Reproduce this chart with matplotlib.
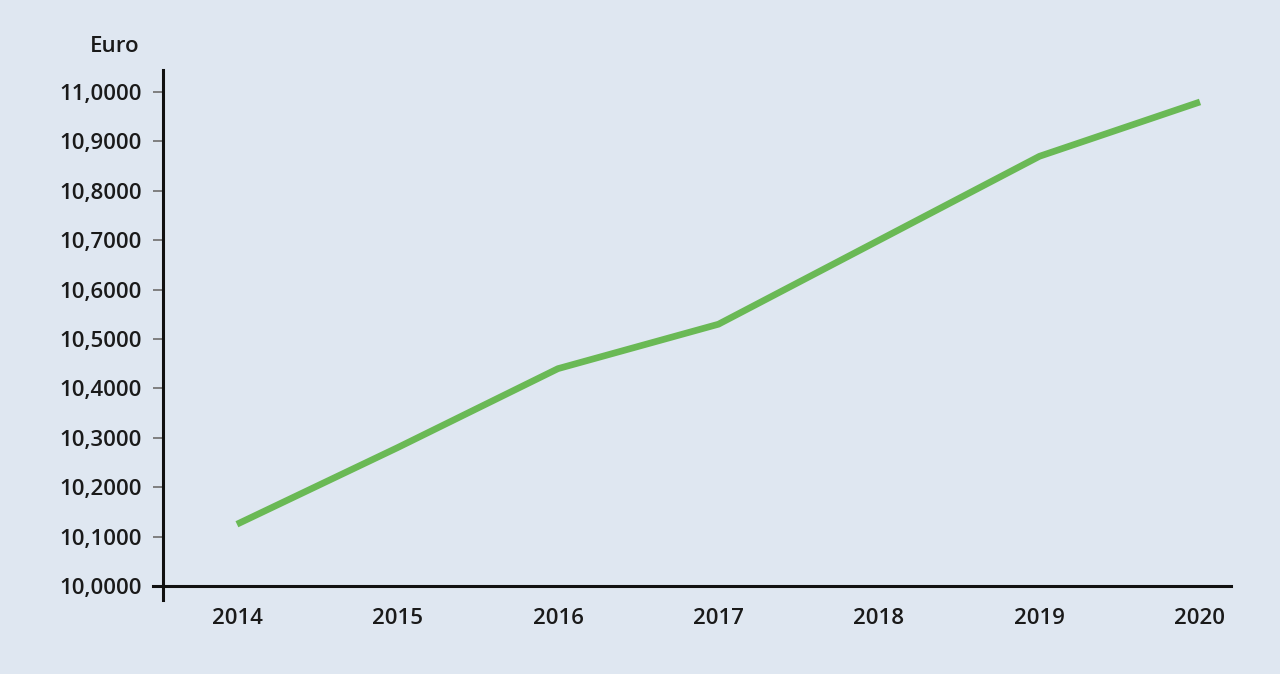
import matplotlib.pyplot as plt
from matplotlib.ticker import FuncFormatter

# Data
years = [2014, 2015, 2016, 2017, 2018, 2019, 2020]
values = [10.125, 10.28, 10.44, 10.53, 10.70, 10.87, 10.98]
y_ticks = [10.0, 10.1, 10.2, 10.3, 10.4, 10.5, 10.6, 10.7, 10.8, 10.9, 11.0]

bg = '#dfe7f1'
plt.rcParams['font.family'] = ['Open Sans', 'DejaVu Sans']

fig = plt.figure(figsize=(12.8, 6.74), dpi=100, facecolor=bg)
ax = fig.add_axes([0.1273, 0.1306, 0.8344, 0.7654])
ax.set_facecolor(bg)

ax.plot(years, values, color='#6ab955', linewidth=4.8, solid_capstyle='butt')

ax.set_xlim(2013.539, 2020.193)
ax.set_ylim(10.0, 11.0445)
ax.set_xticks(years)
ax.set_yticks(y_ticks)
ax.yaxis.set_major_formatter(FuncFormatter(lambda v, p: f"{v:.4f}".replace('.', ',')))

for s in ['top', 'right']:
    ax.spines[s].set_visible(False)
for s in ['left', 'bottom']:
    ax.spines[s].set_linewidth(2.2)
    ax.spines[s].set_color('#111111')

# axes cross slightly past each other
ax.plot([0, 0], [-0.028, 0], transform=ax.transAxes, color='#111111', lw=2.2, clip_on=False)
ax.plot([-0.009, 0], [0, 0], transform=ax.transAxes, color='#111111', lw=2.2, clip_on=False)

ax.tick_params(axis='y', length=7, width=1.3, color='#777777', pad=8,
               labelsize=16, labelcolor='#1a1a1a')
ax.tick_params(axis='x', length=0, pad=16, labelsize=16, labelcolor='#1a1a1a')
for lab in ax.get_yticklabels() + ax.get_xticklabels():
    lab.set_fontweight('semibold')

fig.text(140 / 1280, 1 - 47 / 674, 'Euro', ha='right', va='center',
         fontsize=16, color='#1a1a1a', fontweight='semibold')

fig.savefig('out.png', dpi=100, facecolor=bg)
